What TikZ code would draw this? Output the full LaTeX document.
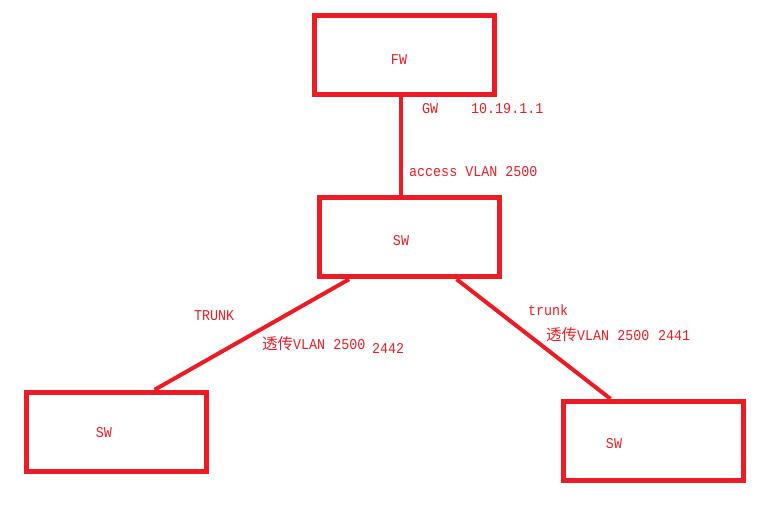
\documentclass[tikz,border=0pt]{standalone}
\usepackage{fontspec}
\usetikzlibrary{calc}
\newfontfamily\monofnt[FakeStretch=0.89]{Liberation Mono}
\newfontfamily\cjk{Noto Sans CJK SC}
\definecolor{pred}{HTML}{ED1C24}
\newcommand{\cj}[1]{{\cjk\fontsize{15.5}{17}\selectfont #1}}
\tikzset{
  devbox/.style={draw=pred, line width=5pt, minimum width=180pt, minimum height=79.5pt, inner sep=0pt},
  lbl/.style={text=pred, inner sep=0pt, font=\monofnt\fontsize{15}{17}\selectfont},
  link/.style={draw=pred, line width=4pt}
}
\begin{document}
\begin{tikzpicture}[x=1pt,y=-1pt]
\useasboundingbox (0,0) rectangle (776,512);
\node[devbox] (fw) at (404.4,55.1) {};
\node[devbox] (mid) at (409.3,237) {};
\node[devbox] (lsw) at (116.4,432) {};
\node[devbox] (rsw) at (653.4,441.1) {};

\coordinate (a1) at ($(fw.south)+(-3.4,0)$);
\coordinate (a2) at (mid.north -| a1);
\draw[link] (a1) -- (a2);
\coordinate (b1) at ($(mid.south west)+(32.3,0)$);
\coordinate (b2) at ($(lsw.north west)+(130.7,0)$);
\draw[link] (b1) -- (b2);
\coordinate (c1) at ($(mid.south west)+(139.8,0)$);
\coordinate (c2) at ($(rsw.north west)+(49.6,0)$);
\draw[link] (c1) -- (c2);

\node[lbl] (tfw) at (399,60) {FW};
\node[lbl] (tmid) at (401,240.7) {SW};
\node[lbl] (tl) at (104,433) {SW};
\node[lbl] (tr) at (614,443.3) {SW};

\node[lbl, anchor=west] (gw) at (422,109) {GW};
\node[lbl, anchor=west] (ip) at (471,109) {10.19.1.1};
\node[lbl, anchor=west] (acc) at (409,171.5) {access VLAN 2500};
\node[lbl, anchor=west] (trk1) at (194,316) {TRUNK};
\node[lbl, anchor=west] (tv1) at (262,344) {\cj{透传}VLAN 2500};
\node[lbl, anchor=west] (n1) at (372,348) {2442};
\node[lbl, anchor=west] (trk2) at (528,310) {trunk};
\node[lbl, anchor=west] (tv2) at (546,335) {\cj{透传}VLAN 2500};
\node[lbl, anchor=west] (n2) at (658,335) {2441};
\end{tikzpicture}
\end{document}
